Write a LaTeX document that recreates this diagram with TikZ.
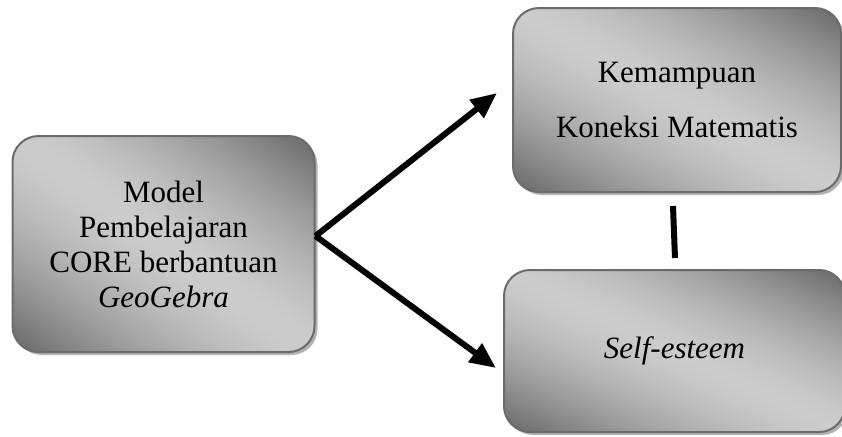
\documentclass[tikz,border=0pt]{standalone}
\usepackage{fontspec}
\setmainfont{Liberation Serif}
\usetikzlibrary{arrows.meta,shadows}
% dark at top-right and bottom-left corners, light along the other diagonal
\pgfdeclarefunctionalshading{boxshade}{\pgfpoint{0bp}{0bp}}{\pgfpoint{100bp}{100bp}}{}{
  50 sub exch 50 sub add abs 50 div dup sqrt mul 0.4 mul 0.8 exch sub dup dup
}

\begin{document}
\begin{tikzpicture}[x=0.5pt,y=-0.5pt,
  conceptbox/.style={draw=black!58,line width=1pt,rounded corners=13pt,
    shading=boxshade,
    drop shadow={shadow xshift=1.5pt,shadow yshift=-1.5pt,fill=black!30,opacity=1},
    align=center,font=\fontsize{15.5}{17.5}\selectfont,inner sep=0pt},
  link/.style={line width=3pt,-{Triangle[length=13pt,width=11pt]}}]
\useasboundingbox (0,0) rectangle (842,436);
\node[conceptbox,minimum width=151pt,minimum height=108pt] (model) at (163.5,244)
  {Model\\Pembelajaran\\CORE berbantuan\\\textit{GeoGebra}};
\node[conceptbox,minimum width=164pt,minimum height=92pt] (koneksi) at (677,100)
  {Kemampuan\\[10pt]Koneksi Matematis};
\node[conceptbox,minimum width=170.5pt,minimum height=81pt] (esteem) at (674.5,351)
  {\textit{Self-esteem}};
% arrow ends
\coordinate (src) at ([yshift=4pt]model.east);
\coordinate (kmtip) at ([xshift=-7.5pt,yshift=3.5pt]koneksi.west);
\coordinate (setip) at ([xshift=-3.5pt,yshift=-8.5pt]esteem.west);
\coordinate (bartop) at ([xshift=-2pt,yshift=-6.5pt]koneksi.south);
\coordinate (barbot) at ([xshift=0.25pt,yshift=5.5pt]esteem.north);
\draw[link] (src) -- (kmtip);
\draw[link] (src) -- (setip);
\draw[line width=3pt] (bartop) -- (barbot);
\end{tikzpicture}
\end{document}
